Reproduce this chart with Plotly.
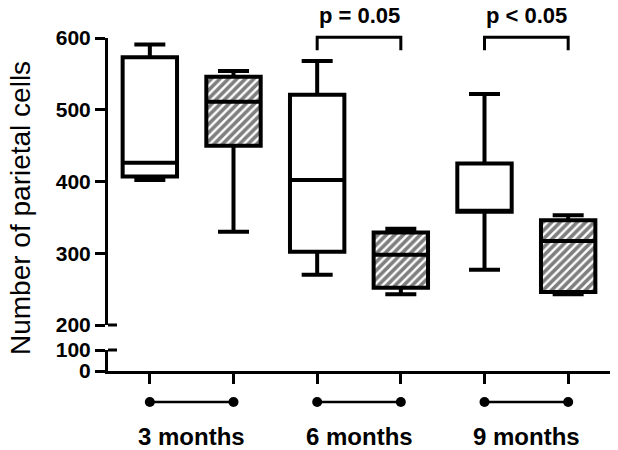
import plotly.graph_objects as go

# ---------------- data ----------------
groups = ["3 months", "6 months", "9 months"]
box_x = [0, 1, 2, 3, 4, 5]
hatched = [False, True, False, True, False, True]
lowerfence = [402, 330, 270, 243, 277, 243]
q1 = [407, 450, 302, 252, 358, 246]
median = [426, 511, 402, 298, 358, 317]
q3 = [573, 546, 521, 329, 425, 346]
upperfence = [591, 554, 568, 334, 522, 353]
p_labels = ["p = 0.05", "p < 0.05"]
p_pairs = [(2, 3), (4, 5)]
upper_ticks = [200, 300, 400, 500, 600]
lower_ticks = [0, 100]

# ---------------- layout helpers ----------------
W, H = 618, 450
ML, MR = 108, 8
def pix(p):
    return (H - p) / H

d_low = [pix(371), pix(350)]
d_up = [pix(325), pix(38)]
d_br = [d_up[0], 1.0]
br_top = 200 + 400 * (1 - d_up[0]) / (d_up[1] - d_up[0])
d_db = [0.0, d_low[0]]

BW = 0.65
LW = 4
FONT = "Liberation Sans"

fig = go.Figure()

# hatched fills
hx = [x for x, h in zip(box_x, hatched) if h]
hb = [a for a, h in zip(q1, hatched) if h]
hh = [b - a for a, b, h in zip(q1, q3, hatched) if h]
fig.add_trace(go.Bar(
    x=hx, base=hb, y=hh, width=BW, xaxis="x", yaxis="y",
    marker=dict(color="white", line=dict(width=0),
                pattern=dict(shape="/", fgcolor="black", bgcolor="white",
                             size=6, solidity=0.6)),
    showlegend=False, hoverinfo="skip"))

# boxes
fig.add_trace(go.Box(
    x=box_x, q1=q1, median=median, q3=q3,
    lowerfence=lowerfence, upperfence=upperfence,
    width=BW, whiskerwidth=0.57, boxpoints=False,
    line=dict(color="black", width=LW), fillcolor="rgba(0,0,0,0)",
    xaxis="x", yaxis="y", showlegend=False))

# invisible trace so the lower (broken) axis segment gets its own subplot
fig.add_trace(go.Scatter(x=[box_x[0]], y=[lower_ticks[0]], mode="markers",
                         marker=dict(opacity=0), xaxis="x", yaxis="y2",
                         showlegend=False, hoverinfo="skip"))

# significance brackets
for (a, b), lab in zip(p_pairs, p_labels):
    fig.add_trace(go.Scatter(
        x=[box_x[a], box_x[a], box_x[b], box_x[b]],
        y=[583, 601, 601, 583], mode="lines",
        line=dict(color="black", width=3), xaxis="x", yaxis="y3",
        showlegend=False, hoverinfo="skip"))
    fig.add_annotation(x=(box_x[a] + box_x[b]) / 2, y=632, xref="x", yref="y3",
                       text=lab, showarrow=False,
                       font=dict(family=FONT, size=22, color="black", weight="bold"))

# group dumbbells and labels
for i, g in enumerate(groups):
    xa, xb = box_x[2 * i], box_x[2 * i + 1]
    fig.add_trace(go.Scatter(
        x=[xa, xb], y=[48, 48], mode="lines+markers",
        line=dict(color="black", width=2.5),
        marker=dict(color="black", size=10, symbol="circle"),
        xaxis="x", yaxis="y4", showlegend=False, hoverinfo="skip"))
    fig.add_annotation(x=(xa + xb) / 2, y=14, xref="x", yref="y4", text=g,
                       showarrow=False,
                       font=dict(family=FONT, size=24, color="black", weight="bold"))

# y title
fig.add_annotation(x=-(ML - 20) / (W - ML - MR), y=pix(208), xref="paper", yref="paper",
                   text="Number of parietal cells", textangle=-90, showarrow=False,
                   xanchor="center", yanchor="middle",
                   font=dict(family=FONT, size=28, color="black"))

# axis-break caps
cap = 9 / (W - ML - MR)
fig.add_shape(type="line", xref="paper", yref="y domain", x0=0, x1=cap, y0=0, y1=0,
              line=dict(color="black", width=3))
fig.add_shape(type="line", xref="paper", yref="y2 domain", x0=0, x1=cap, y0=1, y1=1,
              line=dict(color="black", width=3))

tickfont = dict(family=FONT, size=21, color="black", weight="bold")
axis_common = dict(showline=True, linecolor="black", linewidth=3, ticks="outside",
                   ticklen=10, tickwidth=3, tickcolor="black", showgrid=False,
                   zeroline=False, automargin=False)

fig.update_layout(
    width=W, height=H, margin=dict(l=ML, r=MR, t=0, b=0, autoexpand=False),
    paper_bgcolor="white", plot_bgcolor="rgba(0,0,0,0)",
    showlegend=False,
    xaxis=dict(domain=[0, 1], range=[-0.5, 5.5], anchor="y2", tickvals=box_x,
               showticklabels=False, **axis_common),
    yaxis=dict(domain=d_up, range=[200, 600], anchor="x", tickvals=upper_ticks,
               tickfont=tickfont, **axis_common),
    yaxis2=dict(domain=d_low, range=[0, 100], anchor="x", tickvals=lower_ticks,
                tickfont=tickfont, **axis_common),
    yaxis3=dict(domain=d_br, range=[200, br_top], anchor="x", visible=False),
    yaxis4=dict(domain=d_db, range=[0, 79], anchor="x", visible=False),
)

fig.write_html("out.html", config={"displayModeBar": False},
               post_script="document.body.style.margin='0px';document.body.style.overflow='hidden';")
